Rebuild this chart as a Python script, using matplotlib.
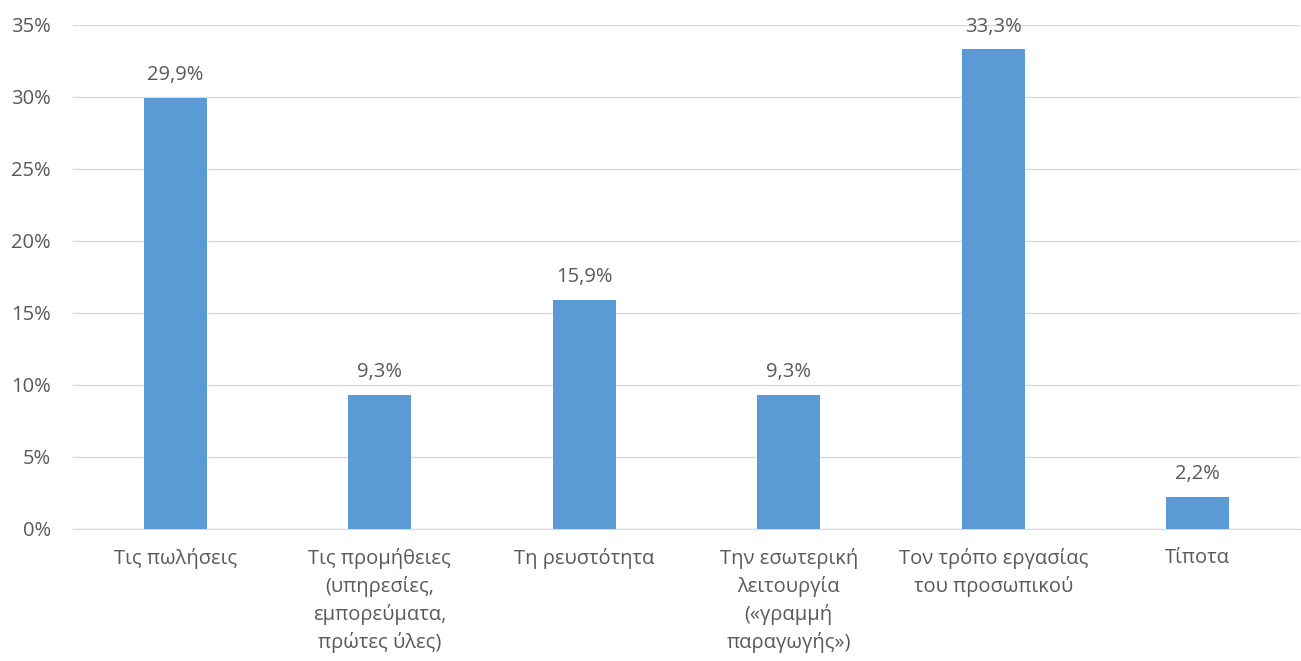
import matplotlib
matplotlib.use("Agg")
import matplotlib.pyplot as plt
from matplotlib.ticker import FuncFormatter

categories = [
    "Τις πωλήσεις",
    "Τις προμήθειες\n(υπηρεσίες,\nεμπορεύματα,\nπρώτες ύλες)",
    "Τη ρευστότητα",
    "Την εσωτερική\nλειτουργία\n(«γραμμή\nπαραγωγής»)",
    "Τον τρόπο εργασίας\nτου προσωπικού",
    "Τίποτα",
]
values = [29.9, 9.3, 15.9, 9.3, 33.3, 2.2]

BAR = "#5B9BD5"
TXT = "#595959"
GRID = "#D9D9D9"

plt.rcParams["font.family"] = ["Open Sans", "DejaVu Sans"]

fig = plt.figure(figsize=(13.01, 6.61), dpi=100)
ax = fig.add_axes([73 / 1301, 132 / 661, (1300 - 73) / 1301, (529 - 25) / 661])

x = list(range(len(categories)))
ax.bar(x, values, width=0.31, color=BAR, zorder=3)

for xi, v in zip(x, values):
    ax.text(xi, v + 0.9, f"{v:.1f}%".replace(".", ","), ha="center", va="bottom",
            fontsize=14.5, color=TXT)

ax.set_xlim(-0.5, len(categories) - 0.5)
ax.set_ylim(0, 35)
ax.set_yticks(range(0, 36, 5))
ax.yaxis.set_major_formatter(FuncFormatter(lambda v, p: f"{v:.0f}%"))
ax.set_xticks(x)
ax.set_xticklabels(categories, fontsize=14.5, color=TXT, linespacing=1.42, va="top")
ax.tick_params(axis="y", labelsize=14.5, labelcolor=TXT, length=0, pad=16)
ax.tick_params(axis="x", length=0, pad=14)
ax.yaxis.grid(True, color=GRID, lw=1, zorder=0)
for s in ["top", "right", "left"]:
    ax.spines[s].set_visible(False)
ax.spines["bottom"].set_color(GRID)

fig.savefig("out.png", dpi=100, facecolor="white")
